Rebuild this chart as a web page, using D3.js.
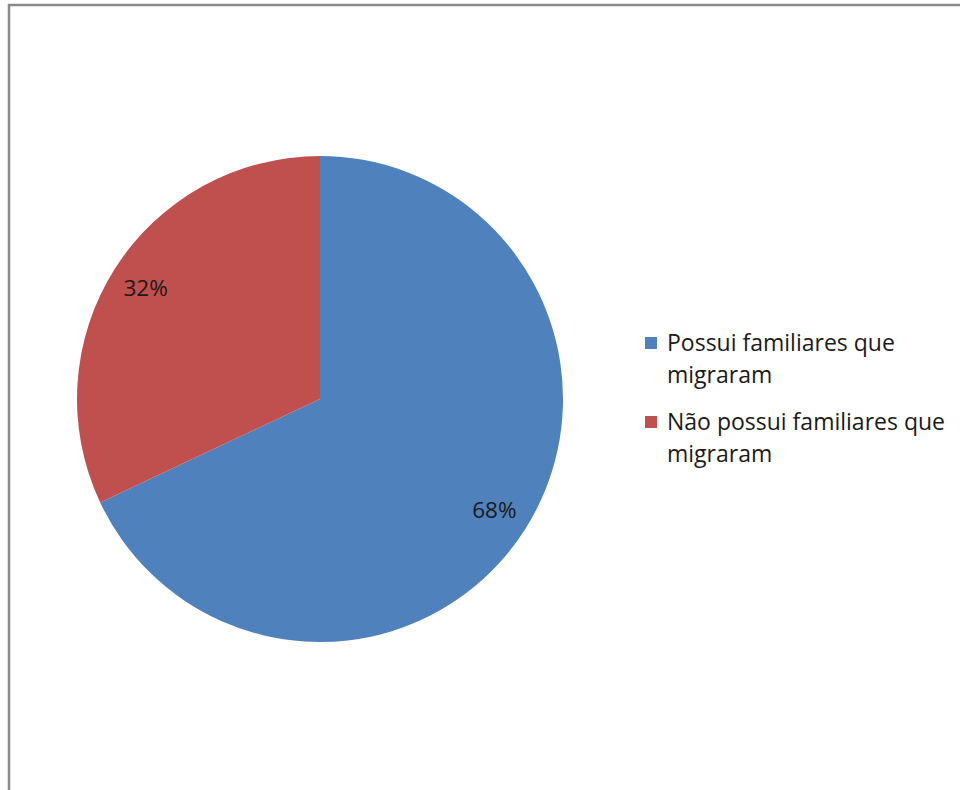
<!DOCTYPE html>
<html>
<head>
<meta charset="utf-8">
<script src="https://cdn.jsdelivr.net/npm/d3@7"></script>
<style>
  html, body { margin: 0; padding: 0; background: #fff; }
  svg { display: block; }
</style>
</head>
<body>
<svg id="chart" width="960" height="790"></svg>
<script>
// Share of respondents with / without relatives who migrated
const categories = ["Possui familiares que migraram", "Não possui familiares que migraram"];
const legendLines = [["Possui familiares que", "migraram"], ["Não possui familiares que", "migraram"]];
const values = [68, 32];
const colors = ["#4F81BD", "#C0504D"];

const svg = d3.select("#chart");
const font = "'Open Sans', sans-serif";

// Outer chart frame (runs off the right and bottom edges)
svg.append("rect")
  .attr("x", 9).attr("y", 5)
  .attr("width", 980).attr("height", 820)
  .attr("fill", "#fff")
  .attr("stroke", "#8a8a8a")
  .attr("stroke-width", 2.5);

const cx = 320, cy = 399, r = 243;
const color = d3.scaleOrdinal().domain(categories).range(colors);

const pie = d3.pie().sort(null).value(d => d.value);
const arcs = pie(categories.map((c, i) => ({ cat: c, value: values[i] })));
const arc = d3.arc().innerRadius(0).outerRadius(r);
const labelArc = d3.arc().innerRadius(r * 0.85).outerRadius(r * 0.85);

const g = svg.append("g").attr("transform", `translate(${cx},${cy})`);

g.selectAll("path.slice")
  .data(arcs)
  .join("path")
  .attr("class", "slice")
  .attr("d", arc)
  .attr("fill", d => color(d.data.cat));

const total = d3.sum(values);
g.selectAll("text.pct")
  .data(arcs)
  .join("text")
  .attr("class", "pct")
  .attr("transform", d => `translate(${labelArc.centroid(d)})`)
  .attr("text-anchor", "middle")
  .attr("dy", "0.35em")
  .attr("font-family", font)
  .attr("font-size", 22.5)
  .attr("fill", "#1a1a1a")
  .text(d => Math.round(d.data.value / total * 100) + "%");

// Legend
const legend = svg.append("g").attr("transform", "translate(645,0)");
const entryY = [343, 422];
const lineH = 32;
categories.forEach((c, i) => {
  const e = legend.append("g").attr("transform", `translate(0,${entryY[i]})`);
  e.append("rect")
    .attr("x", 0).attr("y", -6)
    .attr("width", 12).attr("height", 12)
    .attr("fill", color(c));
  const t = e.append("text")
    .attr("x", 22)
    .attr("font-family", font)
    .attr("font-size", 23)
    .attr("fill", "#1a1a1a");
  legendLines[i].forEach((ln, j) => {
    t.append("tspan")
      .attr("x", 22)
      .attr("y", j * lineH)
      .attr("dy", "0.35em")
      .text(ln);
  });
});
</script>
</body>
</html>
